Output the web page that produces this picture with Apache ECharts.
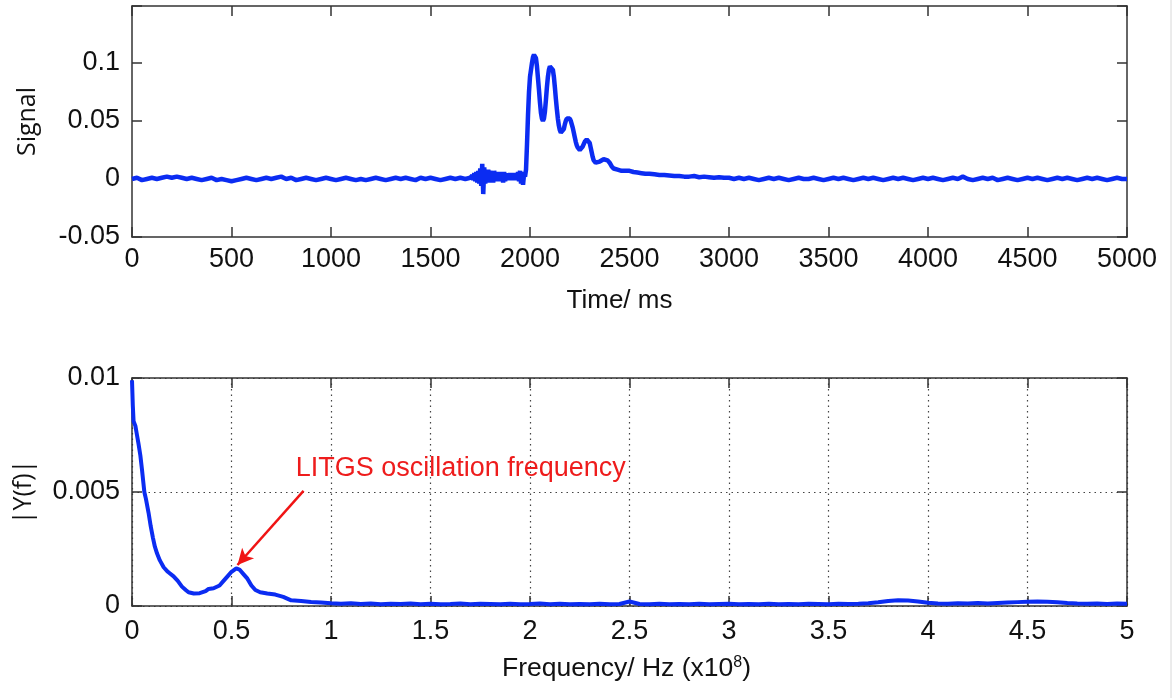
<!DOCTYPE html>
<html>
<head>
<meta charset="utf-8">
<script src="https://cdn.jsdelivr.net/npm/echarts@6/dist/echarts.min.js"></script>
<style>
html,body{margin:0;padding:0;background:#fff;}
#chart{width:1172px;height:698px;}
</style>
</head>
<body>
<div id="chart"></div>
<script>
// ---- Top panel: signal vs time (ms) ----
const signalPoints = [
[0,0.000],[25,0.001],[50,-0.001],[75,0.000],[100,0.001],[125,0.000],[150,0.001],[175,0.002],[200,0.001],[225,0.002],
[250,0.001],[275,0.000],[300,0.001],[325,0.000],[350,-0.001],[375,0.000],[400,0.001],[425,-0.001],[450,0.000],[475,-0.001],
[500,-0.002],[525,-0.001],[550,0.000],[575,0.001],[600,0.000],[625,-0.001],[650,0.000],[675,0.001],[700,0.000],[725,0.001],
[750,0.002],[775,0.000],[800,0.001],[825,-0.001],[850,0.000],[875,0.001],[900,0.000],[925,-0.001],[950,0.000],[975,0.001],
[1000,0.000],[1025,-0.001],[1050,0.000],[1075,0.001],[1100,0.000],[1125,-0.001],[1150,0.000],[1175,-0.001],[1200,0.000],[1225,0.001],
[1250,0.000],[1275,-0.001],[1300,0.000],[1325,0.001],[1350,0.000],[1375,0.001],[1400,0.000],[1425,-0.001],[1450,0.001],[1475,0.000],
[1500,0.001],[1525,0.000],[1550,-0.001],[1575,0.000],[1600,0.001],[1625,0.000],[1650,0.001],[1675,0.000],[1700,0.001],[1705,0.000],
[1710,0.003],[1715,-0.001],[1720,0.005],[1725,-0.002],[1730,0.006],[1735,-0.003],[1740,0.007],[1745,-0.004],[1750,0.009],[1755,-0.006],
[1760,0.013],[1765,-0.013],[1770,0.010],[1775,-0.004],[1780,0.007],[1785,-0.002],[1790,0.008],[1795,-0.003],[1800,0.007],[1805,-0.002],
[1810,0.006],[1815,-0.003],[1820,0.007],[1825,-0.001],[1830,0.006],[1835,-0.002],[1840,0.005],[1845,-0.001],[1850,0.006],[1855,-0.002],
[1860,0.005],[1865,-0.003],[1870,0.006],[1875,-0.002],[1880,0.005],[1885,-0.001],[1890,0.004],[1895,-0.001],[1900,0.005],[1905,0.000],
[1910,0.004],[1915,-0.001],[1920,0.005],[1925,0.000],[1930,0.004],[1935,-0.001],[1940,0.006],[1945,-0.002],[1950,0.007],[1955,-0.004],
[1960,0.006],[1965,-0.005],[1970,0.004],[1975,0.002],[1980,0.008],[1985,0.030],[1990,0.055],[1995,0.075],[2000,0.088],[2005,0.094],
[2010,0.100],[2015,0.105],[2020,0.107],[2025,0.107],[2030,0.104],[2035,0.097],[2040,0.087],[2045,0.077],[2050,0.066],[2055,0.057],
[2060,0.052],[2065,0.050],[2070,0.052],[2075,0.058],[2080,0.068],[2085,0.079],[2090,0.088],[2095,0.094],[2100,0.097],[2105,0.098],
[2110,0.097],[2115,0.094],[2120,0.088],[2125,0.079],[2130,0.069],[2135,0.060],[2140,0.052],[2145,0.046],[2150,0.042],[2155,0.040],
[2160,0.039],[2165,0.040],[2170,0.043],[2175,0.047],[2180,0.050],[2185,0.052],[2190,0.053],[2195,0.053],[2200,0.052],[2205,0.050],
[2210,0.047],[2215,0.044],[2220,0.040],[2225,0.036],[2230,0.032],[2235,0.029],[2240,0.027],[2245,0.026],[2250,0.025],[2255,0.025],
[2260,0.026],[2265,0.028],[2270,0.030],[2275,0.032],[2280,0.033],[2285,0.034],[2290,0.034],[2295,0.033],[2300,0.031],[2305,0.027],
[2310,0.023],[2315,0.019],[2320,0.016],[2325,0.015],[2330,0.014],[2340,0.014],[2350,0.015],[2360,0.016],[2370,0.017],[2380,0.017],
[2390,0.016],[2400,0.014],[2410,0.011],[2420,0.009],[2430,0.009],[2440,0.008],[2450,0.008],[2460,0.007],[2470,0.0075],[2480,0.007],
[2490,0.0065],[2500,0.007],[2520,0.006],[2540,0.0055],[2560,0.005],[2580,0.0045],[2600,0.0045],[2625,0.004],[2650,0.0035],[2675,0.0035],
[2700,0.003],[2725,0.0025],[2750,0.0025],[2775,0.002],[2800,0.002],[2825,0.0025],[2850,0.0015],[2875,0.002],[2900,0.0015],[2925,0.001],
[2950,0.0015],[2975,0.001],[3000,0.001],[3025,0.000],[3050,0.001],[3075,0.000],[3100,0.001],[3125,0.000],[3150,-0.001],[3175,0.000],
[3200,0.001],[3225,0.000],[3250,0.001],[3275,0.000],[3300,-0.001],[3325,0.000],[3350,0.001],[3375,0.000],[3400,0.000],[3425,0.001],
[3450,0.000],[3475,-0.001],[3500,0.000],[3525,0.001],[3550,0.000],[3575,0.001],[3600,0.000],[3625,-0.001],[3650,0.000],[3675,0.001],
[3700,0.000],[3725,0.001],[3750,0.000],[3775,-0.001],[3800,0.000],[3825,0.001],[3850,0.000],[3875,0.001],[3900,0.000],[3925,-0.001],
[3950,0.000],[3975,0.001],[4000,0.000],[4025,0.001],[4050,0.000],[4075,-0.001],[4100,0.000],[4125,0.001],[4150,0.000],[4175,0.002],
[4200,0.000],[4225,-0.001],[4250,0.000],[4275,0.001],[4300,0.000],[4325,0.001],[4350,-0.001],[4375,0.000],[4400,0.001],[4425,0.000],
[4450,-0.001],[4475,0.000],[4500,0.001],[4525,0.000],[4550,0.001],[4575,0.000],[4600,-0.001],[4625,0.000],[4650,0.001],[4675,0.000],
[4700,0.001],[4725,0.000],[4750,-0.001],[4775,0.000],[4800,0.001],[4825,0.000],[4850,0.001],[4875,0.000],[4900,-0.001],[4925,0.000],
[4950,0.001],[4975,0.000],[5000,0.000]
];

// ---- Bottom panel: spectrum |Y(f)| vs frequency (x1e8 Hz) ----
const spectrumPoints = [
[0,0.0099],[0.004,0.0088],[0.008,0.0081],[0.017,0.0079],[0.025,0.0075],[0.033,0.0071],[0.042,0.0066],[0.05,0.0060],[0.056,0.0055],[0.062,0.0050],
[0.07,0.0047],[0.083,0.0041],[0.094,0.0035],[0.105,0.0030],[0.115,0.0026],[0.126,0.0023],[0.14,0.0020],[0.159,0.0017],[0.18,0.0015],[0.209,0.0013],
[0.23,0.0011],[0.251,0.00085],[0.27,0.0007],[0.284,0.0006],[0.31,0.00055],[0.34,0.00056],[0.37,0.00065],[0.385,0.00075],[0.41,0.00078],[0.44,0.0009],
[0.46,0.0011],[0.48,0.0013],[0.50,0.0015],[0.524,0.00165],[0.54,0.0016],[0.56,0.0014],[0.58,0.0012],[0.60,0.0009],[0.62,0.0007],[0.644,0.0006],
[0.68,0.00055],[0.72,0.0005],[0.76,0.0004],[0.80,0.00025],[0.85,0.00022],[0.90,0.00018],[0.95,0.00015],[1.00,0.00012],[1.05,0.00010],[1.10,0.00012],
[1.15,0.00009],[1.20,0.00011],[1.25,0.00008],[1.30,0.00010],[1.35,0.00009],[1.40,0.00011],[1.45,0.00008],[1.50,0.00010],[1.55,0.00008],[1.60,0.00009],
[1.65,0.00011],[1.70,0.00008],[1.75,0.00010],[1.80,0.00009],[1.85,0.00008],[1.90,0.00010],[1.95,0.00008],[2.00,0.00009],[2.05,0.00011],[2.10,0.00008],
[2.15,0.00010],[2.20,0.00008],[2.25,0.00009],[2.30,0.00008],[2.35,0.00010],[2.40,0.00008],[2.45,0.00009],[2.50,0.00020],[2.55,0.00009],[2.60,0.00008],
[2.65,0.00010],[2.70,0.00008],[2.75,0.00009],[2.80,0.00008],[2.85,0.00010],[2.90,0.00008],[2.95,0.00009],[3.00,0.00010],[3.05,0.00008],[3.10,0.00009],
[3.15,0.00008],[3.20,0.00010],[3.25,0.00008],[3.30,0.00009],[3.35,0.00008],[3.40,0.00010],[3.45,0.00009],[3.50,0.00008],[3.55,0.00010],[3.60,0.00009],
[3.65,0.00010],[3.70,0.00012],[3.75,0.00016],[3.80,0.00022],[3.85,0.00025],[3.90,0.00024],[3.95,0.00020],[4.00,0.00014],[4.05,0.00011],[4.10,0.00010],
[4.15,0.00012],[4.20,0.00011],[4.25,0.00013],[4.30,0.00011],[4.35,0.00013],[4.40,0.00015],[4.45,0.00017],[4.50,0.00019],[4.55,0.00020],[4.60,0.00019],
[4.65,0.00016],[4.70,0.00013],[4.75,0.00011],[4.80,0.00010],[4.85,0.00011],[4.90,0.00009],[4.95,0.00011],[5.00,0.00010]
];

const topYTicks = [-0.05, 0, 0.05, 0.1];
const annotationText = 'LITGS oscillation frequency';
const arrowFrom = [0.862, 0.00505];
const arrowTo = [0.53, 0.00180];

const chart = echarts.init(document.getElementById('chart'));
const lineColor = '#0b2cf2';
const axisCol = '#333';
const tickFont = 'Liberation Sans, Arial, sans-serif';

function boxAxis(extra) {
  return Object.assign({
    axisLine: { show: true, onZero: false, lineStyle: { color: axisCol, width: 1.5 } },
    axisTick: { show: true, inside: true, length: 10, lineStyle: { color: axisCol, width: 1.5 } },
    splitLine: { show: false }
  }, extra);
}
function plain(v) { return String(parseFloat(Number(v).toFixed(4))); }

const option = {
  animation: false,
  backgroundColor: '#fff',
  grid: [
    { left: 132, right: 45, top: 6, height: 231, containLabel: false },
    { left: 132, right: 45, top: 378, height: 228, containLabel: false }
  ],
  xAxis: [
    boxAxis({
      gridIndex: 0, type: 'value', position: 'bottom', min: 0, max: 5000, interval: 500,
      axisLabel: { fontSize: 27, color: '#111', fontFamily: tickFont, margin: 9, formatter: plain },
      name: 'Time/ ms', nameLocation: 'middle', nameGap: 51,
      nameTextStyle: { fontSize: 26, color: '#111', fontFamily: tickFont, padding: [0, 20, 0, 0] }
    }),
    boxAxis({ gridIndex: 0, type: 'value', position: 'top', min: 0, max: 5000, interval: 500, axisLabel: { show: false } }),
    boxAxis({
      gridIndex: 1, type: 'value', position: 'bottom', min: 0, max: 5, interval: 0.5,
      axisLabel: { fontSize: 27, color: '#111', fontFamily: tickFont, margin: 12, formatter: plain },
      splitLine: { show: true, lineStyle: { color: '#444', type: [1.5, 4], width: 1.2 } },
      name: '{a|Frequency/ Hz (x10}{s|8}{a|)}', nameLocation: 'middle', nameGap: 49,
      nameTextStyle: {
        padding: [0, 6, 0, 0],
        rich: {
          a: { fontSize: 26.5, color: '#111', fontFamily: tickFont },
          s: { fontSize: 16, color: '#111', fontFamily: tickFont, verticalAlign: 'top', padding: [0, 0, 12, 0] }
        }
      }
    }),
    boxAxis({ gridIndex: 1, type: 'value', position: 'top', min: 0, max: 5, interval: 0.5, axisLabel: { show: false } })
  ],
  yAxis: [
    boxAxis({
      gridIndex: 0, type: 'value', position: 'left', min: -0.05, max: 0.149, interval: 0.05,
      axisLabel: {
        fontSize: 27, color: '#111', fontFamily: tickFont, margin: 12,
        formatter: function (v) {
          for (const t of topYTicks) { if (Math.abs(v - t) < 1e-9) return String(t); }
          return '';
        }
      },
      name: 'Signal', nameLocation: 'middle', nameGap: 92,
      nameTextStyle: { fontSize: 25, color: '#111', fontFamily: 'Open Sans, sans-serif' }
    }),
    boxAxis({ gridIndex: 0, type: 'value', position: 'right', min: -0.05, max: 0.149, interval: 0.05, axisLabel: { show: false } }),
    boxAxis({
      gridIndex: 1, type: 'value', position: 'left', min: 0, max: 0.01, interval: 0.005,
      axisLabel: { fontSize: 27, color: '#111', fontFamily: tickFont, margin: 12, formatter: plain },
      splitLine: { show: true, lineStyle: { color: '#444', type: [1.5, 4], width: 1.2 } },
      name: '|Y(f)|', nameLocation: 'middle', nameGap: 96,
      nameTextStyle: { fontSize: 25, color: '#111', fontFamily: 'Open Sans, sans-serif' }
    }),
    boxAxis({ gridIndex: 1, type: 'value', position: 'right', min: 0, max: 0.01, interval: 0.005, axisLabel: { show: false } })
  ],
  series: [
    {
      type: 'line', xAxisIndex: 0, yAxisIndex: 0, data: signalPoints,
      showSymbol: false, symbol: 'none', lineStyle: { color: lineColor, width: 4.5 }, z: 3
    },
    {
      type: 'line', xAxisIndex: 2, yAxisIndex: 2, data: spectrumPoints,
      showSymbol: false, symbol: 'none', lineStyle: { color: lineColor, width: 4 }, z: 3,
      markLine: {
        silent: true, symbol: ['none', 'arrow'], symbolSize: [12, 16],
        lineStyle: { color: '#f01414', width: 2.5, type: 'solid' },
        label: { show: false },
        data: [[{ coord: arrowFrom }, { coord: arrowTo }]]
      },
      markPoint: {
        silent: true, symbol: 'rect', symbolSize: 1, itemStyle: { color: 'rgba(0,0,0,0)' },
        label: {
          show: true, position: 'right', distance: 0, formatter: annotationText,
          color: '#ee1c1c', fontSize: 27, fontFamily: tickFont, align: 'left', verticalAlign: 'middle'
        },
        data: [{ coord: [0.82, 0.00603] }]
      }
    }
  ],
  graphic: [
    { type: 'line', shape: { x1: 1171, y1: 0, x2: 1171, y2: 698 }, style: { stroke: '#d8d8d8', lineWidth: 1 } }
  ]
};
chart.setOption(option);
</script>
</body>
</html>
